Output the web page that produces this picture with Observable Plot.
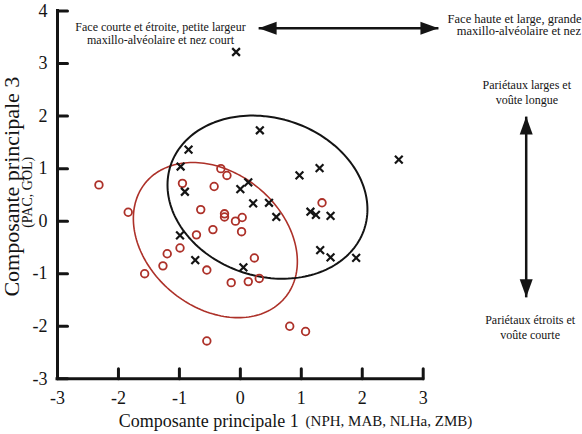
<!DOCTYPE html>
<html>
<head>
<meta charset="utf-8">
<script src="https://cdn.jsdelivr.net/npm/d3@7"></script>
<script src="https://cdn.jsdelivr.net/npm/@observablehq/plot@0.6"></script>
<style>
  html, body { margin: 0; padding: 0; background: #fff; }
  #chart svg { display: block; }
</style>
</head>
<body>
<div id="chart"></div>
<script>
// Scores of each skull on principal components 1 and 3
// Group drawn with open circles
const circleX = [-2.32, -1.84, -0.95, -0.43, -0.32, -0.22, -0.65, -0.26, -0.26, -0.08, 0.03, 0.02, -0.45, -0.72,
                 -0.99, -1.20, -1.27, -1.57, -0.55, 0.23, -0.15, 0.13, 0.31, 0.81, 1.07, -0.55, 1.34];
const circleY = [0.69, 0.17, 0.72, 0.66, 1.00, 0.87, 0.22, 0.14, 0.08, 0.00, 0.07, -0.20, -0.16, -0.26,
                 -0.51, -0.62, -0.85, -1.00, -0.93, -0.70, -1.17, -1.15, -1.09, -2.00, -2.10, -2.28, 0.35];
// Group drawn with crosses
const crossX = [-0.07, 0.32, -0.85, -0.98, -0.91, 0.00, 0.13, 0.97, 1.30, 2.60, 0.21, 0.47, 0.59, 1.15, 1.24,
                1.48, 1.31, 1.48, 1.90, 0.05, -0.99, -0.74];
const crossY = [3.22, 1.73, 1.36, 1.04, 0.56, 0.61, 0.74, 0.87, 1.01, 1.17, 0.34, 0.35, 0.08, 0.18, 0.12,
                0.10, -0.55, -0.69, -0.70, -0.88, -0.27, -0.74];

const xTicks = [-3, -2, -1, 0, 1, 2, 3];
const yTicks = [-3, -2, -1, 0, 1, 2, 3, 4];

// Confidence ellipses: centre and covariance of each group
const ellipseCircle = {center: [-0.41, -0.36], cov: [[1.81, -0.55], [-0.55, 2.18]]};
const ellipseCross = {center: [0.445, 0.457], cov: [[2.69, -0.38], [-0.38, 2.41]]};

// Interpretation of the axes, placed in data units beside the plot
const arrowShafts = [
  {x1: 0.30, y1: 3.67, x2: 3.25, y2: 3.67},
  {x1: 4.69, y1: 1.99, x2: 4.69, y2: -1.45}
];
const arrowTips = [
  {x: 0.30, y: 3.67, dir: -90},
  {x: 3.25, y: 3.67, dir: 90},
  {x: 4.69, y: 1.99, dir: 0},
  {x: 4.69, y: -1.45, dir: 180}
];
const noteLeft = {x: -1.31, y: 3.58, text: "Face courte et étroite, petite largeur\nmaxillo-alvéolaire et nez court"};
const noteRight = [
  {x: 3.40, y: 3.85, text: "Face haute et large, grande"},
  {x: 3.55, y: 3.61, text: "maxillo-alvéolaire et nez"}
];
const noteUp = {x: 4.70, y: 2.46, text: "Pariétaux larges et\nvoûte longue"};
const noteDown = {x: 4.755, y: -2.01, text: "Pariétaux étroits et\nvoûte courte"};

const xTitle = {x: -1.995, y: -3.914, text: "Composante principale 1"};
const xSub = {x: 1.07, y: -3.90, text: "(NPH, MAB, NLHa, ZMB)"};
const yTitle = {x: -3.625, y: 0.657, text: "Composante principale 3"};
const ySub = {x: -3.425, y: 0.549, text: "(PAC, GOL)"};

const circles = circleX.map((x, i) => ({x, y: circleY[i]}));
const crosses = crossX.map((x, i) => ({x, y: crossY[i]}));

// Outline of an ellipse from its centre and covariance (Cholesky factor)
function ellipseOutline(e, n = 180) {
  const [[a, b], [, d]] = e.cov;
  const l11 = Math.sqrt(a), l21 = b / l11, l22 = Math.sqrt(d - l21 * l21);
  return d3.range(n).map(i => {
    const t = 2 * Math.PI * i / n, u = Math.cos(t), v = Math.sin(t);
    return {x: e.center[0] + l11 * u, y: e.center[1] + l21 * u + l22 * v};
  });
}

// Straight tick stroke for vector marks (ticks point into the plot)
const tickShape = {draw(context, l) { context.moveTo(0, 0); context.lineTo(0, -l); }};

const RED = "#ad3129";
const INK = "#141414";
const SERIF = '"Liberation Serif", "Times New Roman", serif';

const chart = Plot.plot({
  width: 582,
  height: 434,
  marginLeft: 57,
  marginRight: 159.3,
  marginTop: 10.5,
  marginBottom: 55.7,
  style: {fontFamily: SERIF, background: "white", color: INK, overflow: "visible"},
  x: {domain: [-3, 3]},
  y: {domain: [-3, 4]},
  marks: [
    Plot.line(ellipseOutline(ellipseCircle), {x: "x", y: "y", curve: "linear-closed", stroke: RED, strokeWidth: 1.6}),
    Plot.line(ellipseOutline(ellipseCross), {x: "x", y: "y", curve: "linear-closed", stroke: INK, strokeWidth: 2}),
    Plot.dot(circles, {x: "x", y: "y", r: 3.8, stroke: RED, strokeWidth: 1.8, fill: "none"}),
    Plot.dot(crosses, {x: "x", y: "y", symbol: "times", r: 3.6, stroke: INK, strokeWidth: 2.2}),
    // axes: lines, inward ticks and labels
    Plot.ruleX([-3], {strokeWidth: 3, stroke: INK, strokeLinecap: "square"}),
    Plot.ruleY([-3], {strokeWidth: 3, stroke: INK, strokeLinecap: "square"}),
    Plot.vector(xTicks, {x: d => d, y: -3, length: 10, rotate: 0, anchor: "start", shape: tickShape,
                         stroke: INK, strokeWidth: 3}),
    Plot.vector(yTicks, {x: -3, y: d => d, length: 10, rotate: 90, anchor: "start", shape: tickShape,
                         stroke: INK, strokeWidth: 3}),
    Plot.axisX({ticks: xTicks, tickSize: 0, tickPadding: 12, fontSize: 18,
                tickFormat: d => String(d), label: null}),
    Plot.axisY({ticks: yTicks, tickSize: 0, tickPadding: 10, fontSize: 18,
                tickFormat: d => String(d), label: null}),
    // axis titles
    Plot.text([xTitle], {x: "x", y: "y", text: "text", textAnchor: "start", lineAnchor: "bottom", fontSize: 18}),
    Plot.text([xSub], {x: "x", y: "y", text: "text", textAnchor: "start", lineAnchor: "bottom", fontSize: 15}),
    Plot.text([yTitle], {x: "x", y: "y", text: "text", rotate: -90, lineAnchor: "bottom", fontSize: 22}),
    Plot.text([ySub], {x: "x", y: "y", text: "text", rotate: -90, lineAnchor: "bottom", fontSize: 14}),
    // interpretation arrows and notes
    Plot.link(arrowShafts, {x1: "x1", y1: "y1", x2: "x2", y2: "y2", stroke: INK, strokeWidth: 2.5}),
    Plot.vector(arrowTips, {x: "x", y: "y", rotate: "dir", length: 18, r: 6.5, shape: "spike",
                            anchor: "end", fill: INK, stroke: "none"}),
    Plot.text([noteLeft], {x: "x", y: "y", text: "text", fontSize: 12, lineHeight: 1.1}),
    Plot.text(noteRight, {x: "x", y: "y", text: "text", textAnchor: "start", fontSize: 12.5}),
    Plot.text([noteUp], {x: "x", y: "y", text: "text", fontSize: 12, lineHeight: 1.2}),
    Plot.text([noteDown], {x: "x", y: "y", text: "text", fontSize: 12, lineHeight: 1.25})
  ]
});

document.getElementById("chart").appendChild(chart);
</script>
</body>
</html>
